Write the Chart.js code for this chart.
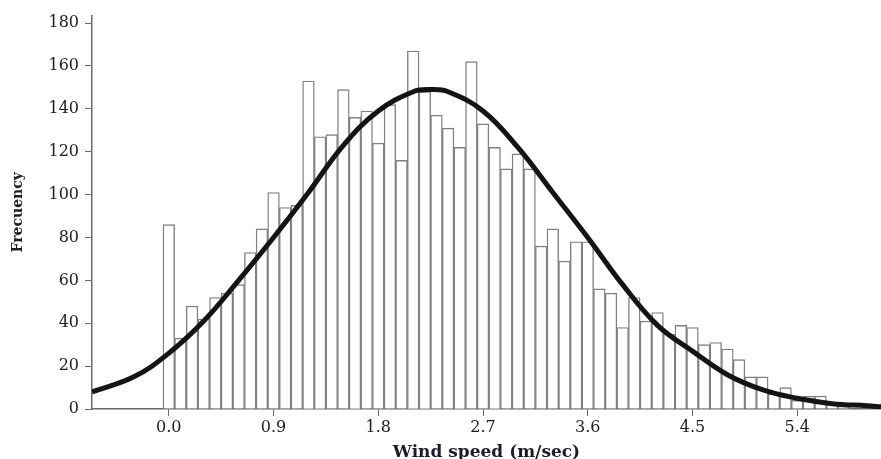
<!DOCTYPE html>
<html>
<head>
<meta charset="utf-8">
<script src="https://cdn.jsdelivr.net/npm/chart.js@4.4.1/dist/chart.umd.min.js"></script>
<style>
  body { margin: 0; background: #fff; }
  canvas { display: block; }
</style>
</head>
<body>
<canvas id="windChart" width="881" height="459"></canvas>
<script>
/*
  Data:
*/
var binCenters = [0.0, 0.1, 0.2, 0.3, 0.4, 0.5, 0.6, 0.7, 0.8, 0.9,
  1.0, 1.1, 1.2, 1.3, 1.4, 1.5, 1.6, 1.7, 1.8, 1.9,
  2.0, 2.1, 2.2, 2.3, 2.4, 2.5, 2.6, 2.7, 2.8, 2.9,
  3.0, 3.1, 3.2, 3.3, 3.4, 3.5, 3.6, 3.7, 3.8, 3.9,
  4.0, 4.1, 4.2, 4.3, 4.4, 4.5, 4.6, 4.7, 4.8, 4.9,
  5.0, 5.1, 5.2, 5.3, 5.4, 5.5, 5.6, 5.7, 5.8];
var counts = [86, 33, 48, 42, 52, 54, 58, 73, 84, 101,
  94, 95, 153, 127, 128, 149, 136, 139, 124, 142,
  116, 167, 148, 137, 131, 122, 162, 133, 122, 112,
  119, 112, 76, 84, 69, 78, 78, 56, 54, 38,
  52, 41, 45, 35, 39, 38, 30, 31, 28, 23,
  15, 15, 7, 10, 4, 6, 6, 2, 1];

// fitted curve, points
var curveX = [-0.66, -0.3, 0.0, 0.3, 0.6, 0.9, 1.2, 1.5, 1.8, 2.1, 2.25, 2.4, 2.7, 3.0, 3.3, 3.6, 3.9, 4.2, 4.5, 4.8, 5.1, 5.4, 5.7, 6.0, 6.12];
var curveY = [8, 15, 26, 41, 60, 80, 101, 123, 139, 148, 149, 148, 139, 122, 101, 80, 58, 39, 27, 16, 9, 5, 2.5, 1.5, 1];

var xTicks = [0.0, 0.9, 1.8, 2.7, 3.6, 4.5, 5.4];
var yTicks = [0, 20, 40, 60, 80, 100, 120, 140, 160, 180];

var axisGray = '#6a6a6a';
var textColor = '#1c1c28';
var serif = "'DejaVu Serif', 'Liberation Serif', serif";

var ctx = document.getElementById('windChart');

var windChart = new Chart(ctx, {
  type: 'bar',
  data: {
    datasets: [{
      type: 'line',
      order: 0,
      data: curveX.map((x, i) => ({x: x, y: curveY[i]})),
      borderColor: '#141414',
      borderWidth: 5,
      pointRadius: 0,
      tension: 0.4,
      fill: false
    }, {
      type: 'bar',
      order: 1,
      data: binCenters.map((x, i) => ({x: x, y: counts[i]})),
      backgroundColor: '#ffffff',
      borderColor: '#808080',
      borderWidth: 1.4,
      barPercentage: 1,
      categoryPercentage: 1
    }]
  },
  options: {
    responsive: false,
    animation: false,
    devicePixelRatio: 1,
    layout: {
      padding: {top: 15, right: 0, bottom: 0, left: 0}
    },
    plugins: {
      legend: { display: false },
      tooltip: { enabled: false }
    },
    scales: {
      x: {
        type: 'linear',
        offset: false,
        min: -0.66,
        max: 6.12,
        afterBuildTicks: (s) => { s.ticks = xTicks.map(v => ({value: v})) },
        afterFit: (s) => { s.height = 50 },
        ticks: {
          callback: (v) => Number(v).toFixed(1),
          color: textColor,
          font: {family: serif, size: 16},
          padding: 2,
          maxRotation: 0
        },
        grid: {
          offset: false,
          drawOnChartArea: false,
          drawTicks: true,
          tickLength: 7,
          color: axisGray
        },
        border: { display: true, color: axisGray, width: 1.5 },
        title: {
          display: true,
          text: 'Wind speed (m/sec)',
          color: textColor,
          font: {family: serif, size: 17, weight: 'bold', lineHeight: 0.8},
          padding: {top: 0, bottom: 0}
        }
      },
      y: {
        min: 0,
        max: 183.5,
        afterBuildTicks: (s) => { s.ticks = yTicks.map(v => ({value: v})) },
        afterFit: (s) => { s.width = 92 },
        ticks: {
          color: textColor,
          font: {family: serif, size: 16},
          padding: 6
        },
        grid: {
          drawOnChartArea: false,
          drawTicks: true,
          tickLength: 7,
          color: axisGray
        },
        border: { display: true, color: axisGray, width: 1.5 },
        title: {
          display: true,
          text: 'Frecuency',
          color: textColor,
          font: {family: serif, size: 14, weight: 'bold'},
          padding: {top: 10, bottom: 4}
        }
      }
    }
  }
})
</script>
</body>
</html>
